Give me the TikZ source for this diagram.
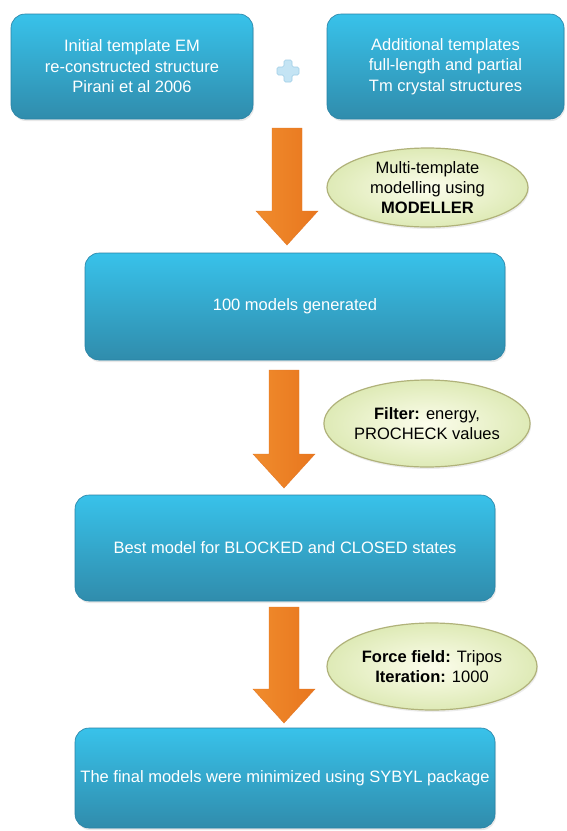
\documentclass[tikz,border=0pt]{standalone}
\usepackage{fontspec}
\setmainfont{Liberation Sans}
\usetikzlibrary{shapes.geometric,shadows,calc}
\definecolor{boxtop}{RGB}{56,194,234}
\definecolor{boxbot}{RGB}{48,140,172}
\definecolor{boxedge}{RGB}{40,130,165}
\definecolor{notein}{RGB}{252,253,236}
\definecolor{noteout}{RGB}{222,234,182}
\definecolor{noteedge}{RGB}{176,178,122}
\definecolor{arrL}{RGB}{240,140,45}
\definecolor{arrM}{RGB}{249,170,72}
\definecolor{arrR}{RGB}{232,118,30}
\definecolor{arredge}{RGB}{228,120,40}
\definecolor{plusfill}{RGB}{196,228,244}
\definecolor{plusedge}{RGB}{160,206,230}
\tikzset{
  bluebox/.style={rounded corners=14pt, top color=boxtop, bottom color=boxbot,
    draw=boxedge, line width=0.6pt, text=white, align=center,
    font=\fontsize{16.5}{20.5}\selectfont, inner sep=0pt,
    drop shadow={opacity=0.18, shadow xshift=1pt, shadow yshift=-2pt}},
  note/.style={ellipse, inner color=notein, outer color=noteout, draw=noteedge,
    line width=1.2pt, align=center, font=\fontsize{16.5}{20}\selectfont, inner sep=0pt,
    drop shadow={opacity=0.15, shadow xshift=1pt, shadow yshift=-2pt}},
  arrowshade/.style={left color=arrL, middle color=arrM, right color=arrR,
    draw=arredge, line width=0.4pt},
  plusshape/.style={fill=plusfill, draw=plusedge, line width=0.6pt, rounded corners=1.5pt}
}
\newcommand\orangearrow[2]{%
  \path[arrowshade] ($(#1)+(-15,0)$) -- ($(#1)+(15,0)$) -- ($(#2)+(15,-34)$)
    -- ($(#2)+(31,-34)$) -- (#2) -- ($(#2)+(-31,-34)$) -- ($(#2)+(-15,-34)$) -- cycle;}
\begin{document}
\begin{tikzpicture}[x=1pt,y=-1pt]
\useasboundingbox[fill=white] (0,0) rectangle (566,831);

% top boxes
\node[bluebox, minimum width=242pt, minimum height=105pt] (init) at (132,66.5)
  {Initial template EM\\re-constructed structure\\Pirani et al 2006};
\node[bluebox, minimum width=237pt, minimum height=105pt] (addl) at (445.5,66.5)
  {Additional templates\\full-length and partial\\Tm crystal structures};

% plus sign
\coordinate (plus) at (288,71);
\path[plusshape] ($(plus)+(-4,-11)$) -- ($(plus)+(4,-11)$) -- ($(plus)+(4,-4)$)
  -- ($(plus)+(11,-4)$) -- ($(plus)+(11,4)$) -- ($(plus)+(4,4)$) -- ($(plus)+(4,11)$)
  -- ($(plus)+(-4,11)$) -- ($(plus)+(-4,4)$) -- ($(plus)+(-11,4)$) -- ($(plus)+(-11,-4)$)
  -- ($(plus)+(-4,-4)$) -- cycle;

% main boxes
\node[bluebox, minimum width=420pt, minimum height=107pt] (gen) at (295,306.5)
  {100 models generated};
\node[bluebox, minimum width=420pt, minimum height=106pt] (best) at (285,548)
  {Best model for BLOCKED and CLOSED states};
\node[bluebox, minimum width=420pt, minimum height=100pt] (final) at (285,778)
  {The final models were minimized using SYBYL package};

% notes
\node[note, minimum width=201pt, minimum height=79pt] (n1) at (427.5,187.5)
  {Multi-template\\modelling using\\\textbf{MODELLER}};
\node[note, minimum width=200pt, minimum height=87pt] (n2) at (427,423.5)
  {\textbf{Filter:} energy,\\PROCHECK values};
\node[note, minimum width=210pt, minimum height=87pt] (n3) at (432,666.5)
  {\textbf{Force field:} Tripos\\\textbf{Iteration:} 1000};

% arrows
\coordinate (a1top) at (287,128);
\coordinate (a1tip) at (287,245);
\coordinate (a2top) at (284,370);
\coordinate (a2tip) at (284,488);
\coordinate (a3top) at (284,607);
\coordinate (a3tip) at (284,723);
\orangearrow{a1top}{a1tip}
\orangearrow{a2top}{a2tip}
\orangearrow{a3top}{a3tip}
\end{tikzpicture}
\end{document}
